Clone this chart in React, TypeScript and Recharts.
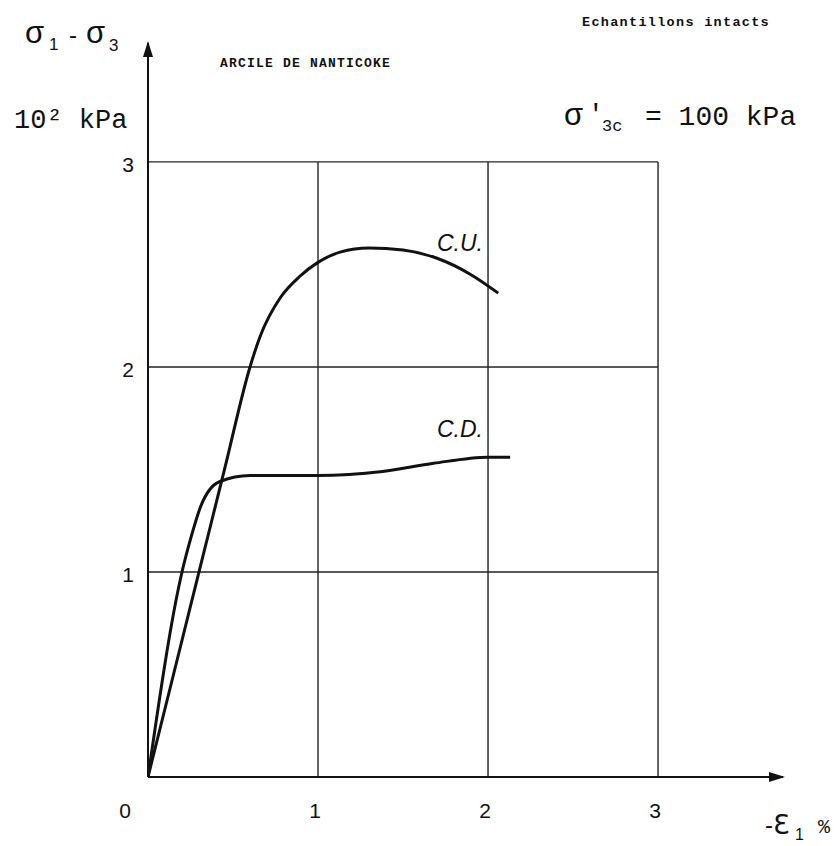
import {
  ComposedChart,
  Line,
  XAxis,
  YAxis,
  ReferenceLine,
  ReferenceDot,
} from "recharts";

// strain -ε1 (%) vs deviator stress σ1-σ3 (10² kPa)
const cuStrain = [0, 0.3, 0.45, 0.6, 0.66, 0.78, 0.89, 1.0, 1.13, 1.3, 1.5, 1.7, 1.9, 2.06];
const cuStress = [0, 1.0, 1.5, 2.0, 2.15, 2.34, 2.44, 2.51, 2.56, 2.58, 2.57, 2.53, 2.45, 2.36];

const cdStrain = [0, 0.2, 0.25, 0.31, 0.42, 0.6, 0.74, 1.0, 1.38, 1.68, 2.0, 2.13];
const cdStress = [0, 1.0, 1.16, 1.32, 1.44, 1.47, 1.47, 1.47, 1.49, 1.53, 1.56, 1.56];

const gridTicks = [0, 1, 2, 3];
const xMax = 3.735;
const yMax = 3.58;

const cuData = cuStrain.map((x, i) => ({ x, y: cuStress[i] }));
const cdData = cdStrain.map((x, i) => ({ x, y: cdStress[i] }));

const mono = "'Liberation Mono', 'DejaVu Sans Mono', monospace";
const sans = "'Liberation Sans', Arial, sans-serif";

function XTick({ x, y, payload }: any) {
  const shift = payload.value === 0 ? -23 : -3;
  return (
    <text x={x + shift} y={y + 33} textAnchor="middle" fontSize={21} fontFamily={sans} fill="#111">
      {payload.value}
    </text>
  );
}

function YTick({ y, payload }: any) {
  if (payload.value === 0) return null;
  return (
    <text x={128} y={y + 10} textAnchor="middle" fontSize={21} fontFamily={sans} fill="#111">
      {payload.value}
    </text>
  );
}

const arrowRight = ({ cx, cy }: any) => (
  <path d={`M${cx + 2},${cy} L${cx - 14},${cy - 5} L${cx - 14},${cy + 5} Z`} fill="#111" />
);
const arrowUp = ({ cx, cy }: any) => (
  <path d={`M${cx},${cy - 2} L${cx - 5},${cy + 14} L${cx + 5},${cy + 14} Z`} fill="#111" />
);

export default function App() {
  return (
    <div style={{ position: "absolute", left: 0, top: 0, width: 840, height: 846, background: "#fff" }}>
      <ComposedChart
        width={840}
        height={846}
        margin={{ top: 43, right: 57, bottom: 39, left: 118 }}
      >
        <XAxis
          type="number"
          dataKey="x"
          domain={[0, xMax]}
          ticks={gridTicks}
          height={30}
          allowDataOverflow
          tickLine={false}
          axisLine={{ stroke: "#111", strokeWidth: 2 }}
          tick={<XTick />}
        />
        <YAxis
          type="number"
          dataKey="y"
          domain={[0, yMax]}
          ticks={gridTicks}
          width={30}
          allowDataOverflow
          tickLine={false}
          axisLine={{ stroke: "#111", strokeWidth: 2 }}
          tick={<YTick />}
        />
        {[1, 2, 3].map((v) => (
          <ReferenceLine
            key={`v${v}`}
            segment={[{ x: v, y: 0 }, { x: v, y: 3 }]}
            stroke="#222"
            strokeWidth={1.4}
          />
        ))}
        {[1, 2, 3].map((v) => (
          <ReferenceLine
            key={`h${v}`}
            segment={[{ x: 0, y: v }, { x: 3, y: v }]}
            stroke="#222"
            strokeWidth={1.4}
          />
        ))}
        <ReferenceDot x={xMax} y={0} ifOverflow="visible" shape={arrowRight} />
        <ReferenceDot x={0} y={yMax} ifOverflow="visible" shape={arrowUp} />
        <Line
          data={cuData}
          dataKey="y"
          type="monotone"
          stroke="#111"
          strokeWidth={3}
          dot={false}
          isAnimationActive={false}
        />
        <Line
          data={cdData}
          dataKey="y"
          type="monotone"
          stroke="#111"
          strokeWidth={3}
          dot={false}
          isAnimationActive={false}
        />
      </ComposedChart>

      <svg
        width={840}
        height={846}
        style={{ position: "absolute", left: 0, top: 0, pointerEvents: "none" }}
      >
        <g fill="#111">
          {/* y axis title */}
          <text x={25} y={43} fontSize={31} fontFamily={sans}>σ</text>
          <text x={49} y={50} fontSize={17} fontFamily={sans}>1</text>
          <text x={69} y={43} fontSize={24} fontFamily={sans}>-</text>
          <text x={86} y={43} fontSize={31} fontFamily={sans}>σ</text>
          <text x={109} y={51} fontSize={17} fontFamily={sans}>3</text>
          <text x={14} y={128} fontSize={27} fontFamily={mono}>10² kPa</text>

          <text x={220} y={67} fontSize={13} fontFamily={mono} fontWeight="bold" letterSpacing={1.2}>
            ARCILE DE NANTICOKE
          </text>
          <text x={582} y={26} fontSize={13.5} fontFamily={mono} fontWeight="bold" letterSpacing={1.3}>
            Echantillons intacts
          </text>

          {/* consolidation stress */}
          <text x={564} y={125} fontSize={31} fontFamily={sans}>σ</text>
          <text x={588} y={122} fontSize={26} fontFamily={mono}>'</text>
          <text x={602} y={131} fontSize={17} fontFamily={mono}>3c</text>
          <text x={645} y={125} fontSize={28} fontFamily={mono}>= 100 kPa</text>

          <text x={437} y={251} fontSize={23} fontFamily={sans} fontStyle="italic">C.U.</text>
          <text x={437} y={437} fontSize={23} fontFamily={sans} fontStyle="italic">C.D.</text>

          {/* x axis title */}
          <text x={765} y={833} fontSize={24} fontFamily={sans}>-</text>
          <text x={773} y={834} fontSize={27} fontFamily="'DejaVu Sans', sans-serif">Ɛ</text>
          <text x={795} y={840} fontSize={16} fontFamily={sans}>1</text>
          <text x={818} y={833} fontSize={20} fontFamily={mono}>%</text>
        </g>
      </svg>
    </div>
  );
}
